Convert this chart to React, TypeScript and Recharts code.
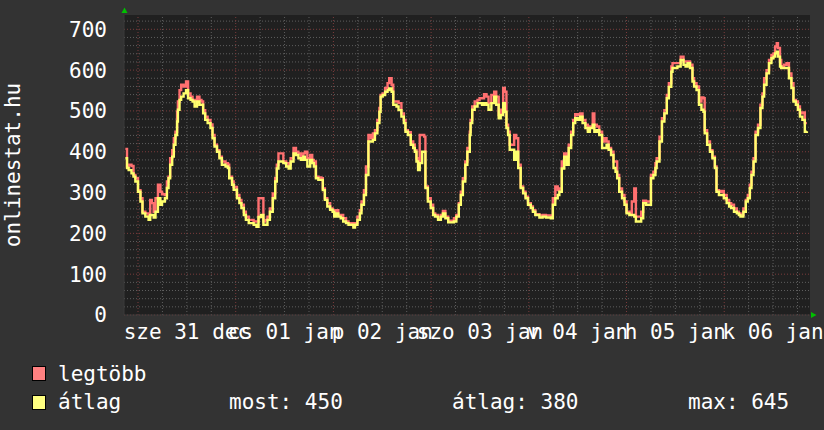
import React from "react";
import { LineChart, Line, XAxis, YAxis, CartesianGrid, ReferenceLine } from "recharts";

// hours counted from midnight, 31 dec
const hours = [
  -3.1, -2.7, -2.3, -1.6, -1.1, -0.65, 0, 0.6, 1.1, 1.8, 2.6, 3.0, 3.4, 3.85, 4.3, 4.9, 5.5, 5.9, 6.6, 7.1,
  7.5, 7.9, 8.4, 8.8, 9.2, 9.6, 9.8, 10.2, 10.6, 11.2, 11.8, 12.3, 12.9, 13.4, 13.9, 14.5, 15.1, 15.6, 16.0, 16.5,
  17.1, 17.8, 18.3, 18.8, 19.4, 20.0, 20.6, 21.5, 22.1, 22.4, 23.1, 23.5, 24.3, 24.9, 25.4, 26.0, 26.5, 27.2, 27.8, 28.4,
  29.1, 29.6, 30.2, 30.8, 31.2, 31.8, 32.4, 33.1, 33.7, 34.1, 34.5, 35.1, 35.7, 36.4, 37.0, 37.5, 38.2, 38.8, 39.4, 40.0,
  40.6, 41.0, 41.6, 42.3, 42.8, 43.2, 43.7, 44.3, 45.0, 45.4, 45.9, 46.5, 47.2, 47.8, 48.2, 48.6, 49.2, 49.8, 50.4, 51.1,
  51.7, 52.2, 52.9, 53.3, 53.9, 54.5, 54.9, 55.5, 56.0, 56.6, 57.2, 57.7, 58.2, 58.8, 59.3, 59.6, 60.1, 60.7, 61.3, 61.7,
  62.3, 62.7, 63.5, 64.0, 64.7, 65.3, 65.7, 66.3, 67.0, 67.6, 68.0, 68.4, 68.8, 69.2, 69.8, 70.3, 70.6, 71.2, 71.9, 72.5,
  73.0, 73.7, 74.4, 74.9, 75.5, 76.2, 77.0, 77.6, 78.2, 78.8, 79.3, 79.8, 80.4, 80.9, 81.5, 81.7, 82.1, 82.7, 83.4, 83.9,
  84.5, 85.0, 85.6, 86.1, 86.8, 87.5, 88.0, 88.6, 89.1, 89.7, 90.1, 90.5, 90.9, 91.3, 91.9, 92.4, 92.9, 93.4, 94.0, 94.6,
  95.2, 95.8, 96.5, 97.0, 97.6, 98.6, 99.4, 100.2, 101.4, 101.9, 102.5, 103.1, 103.5, 104.1, 104.7, 105.3, 105.8, 106.4, 106.9, 107.4,
  108.0, 108.6, 109.2, 109.9, 110.5, 111.0, 111.7, 112.1, 112.7, 113.3, 114.0, 114.5, 115.1, 115.6, 116.2, 116.8, 117.3, 117.7, 118.2, 118.9,
  119.5, 120.0, 120.7, 121.3, 121.9, 122.3, 123.0, 123.6, 124.1, 124.8, 125.4, 126.0, 126.6, 127.1, 127.4, 128.1, 128.7, 129.3, 129.9, 130.4,
  131.0, 131.3, 132.0, 132.5, 133.3, 134.0, 134.5, 135.0, 135.6, 136.2, 136.6, 137.2, 137.8, 138.4, 138.9, 139.2, 139.8, 140.5, 141.1, 141.7,
  142.1, 142.7, 143.3, 143.9, 144.6, 145.2, 145.7, 146.4, 147.1, 147.6, 148.0, 148.7, 149.3, 149.8, 150.3, 150.7, 151.2, 151.7, 152.3, 152.9,
  153.4, 153.8, 154.4, 155.0, 155.6, 156.1, 156.5, 156.9, 157.2, 157.7, 158.0, 158.7, 159.3, 159.9, 160.5, 161.0, 161.6, 162.1, 162.6, 163.2,
  163.8, 164.3,
];

// "legtöbb" (max) series
const legtobb = [
  407, 364, 368, 365, 343, 335, 306, 286, 253, 249, 245, 282, 274, 253, 286, 319, 302, 296, 294, 327,
  339, 384, 404, 433, 449, 498, 523, 551, 564, 560, 572, 543, 535, 527, 527, 535, 527, 523, 502, 486,
  478, 467, 441, 417, 404, 388, 376, 372, 368, 339, 327, 314, 294, 282, 270, 253, 241, 233, 233, 229,
  229, 286, 286, 229, 233, 241, 261, 298, 335, 368, 396, 396, 376, 372, 368, 384, 409, 400, 396, 388,
  396, 400, 384, 392, 380, 376, 339, 337, 335, 310, 286, 274, 261, 257, 249, 257, 245, 245, 237, 229,
  225, 225, 219, 225, 241, 257, 278, 306, 364, 441, 433, 445, 453, 478, 507, 539, 543, 556, 568, 580,
  564, 523, 523, 519, 494, 478, 453, 448, 425, 417, 404, 384, 363, 441, 441, 437, 315, 286, 270, 249,
  245, 239, 245, 255, 241, 231, 231, 237, 245, 274, 302, 335, 376, 409, 449, 478, 511, 523, 527, 531,
  531, 541, 535, 519, 539, 547, 535, 490, 503, 556, 547, 466, 449, 417, 417, 441, 433, 368, 315, 302,
  290, 274, 266, 257, 247, 244, 245, 244, 241, 286, 315, 306, 310, 376, 396, 388, 417, 449, 478, 492,
  490, 494, 478, 466, 453, 462, 494, 466, 462, 449, 425, 433, 425, 409, 400, 376, 376, 343, 310, 294,
  278, 253, 249, 278, 310, 241, 241, 253, 280, 278, 278, 343, 351, 372, 384, 437, 482, 502, 539, 568,
  609, 617, 617, 617, 633, 621, 621, 621, 613, 580, 568, 560, 523, 533, 531, 453, 425, 404, 388, 364,
  306, 302, 304, 294, 282, 274, 270, 261, 253, 249, 245, 261, 282, 294, 319, 351, 384, 449, 466, 515,
  543, 580, 600, 625, 637, 641, 658, 666, 654, 625, 609, 613, 617, 592, 568, 527, 523, 511, 494, 496,
  470, 470,
];

// "átlag" (average) series
const atlag = [
  384, 360, 355, 347, 339, 327, 302, 278, 249, 241, 233, 245, 245, 239, 253, 286, 270, 278, 286, 311,
  335, 368, 388, 417, 441, 474, 503, 527, 535, 543, 551, 531, 527, 523, 511, 523, 515, 515, 494, 478,
  470, 458, 433, 413, 400, 384, 368, 364, 360, 335, 319, 307, 286, 274, 262, 245, 233, 225, 225, 221,
  216, 240, 245, 221, 221, 233, 253, 286, 327, 359, 376, 376, 372, 364, 359, 376, 396, 392, 384, 380,
  388, 380, 364, 380, 372, 364, 335, 331, 331, 306, 282, 266, 258, 253, 241, 249, 241, 237, 229, 225,
  221, 221, 214, 221, 233, 249, 270, 294, 343, 425, 425, 429, 445, 470, 498, 535, 539, 547, 551, 555,
  547, 515, 511, 502, 486, 470, 449, 441, 417, 409, 400, 376, 355, 372, 400, 400, 311, 278, 262, 245,
  241, 233, 241, 249, 237, 227, 227, 229, 241, 270, 294, 327, 368, 400, 441, 470, 503, 511, 519, 519,
  515, 519, 515, 503, 519, 535, 515, 482, 490, 519, 498, 458, 441, 405, 405, 380, 400, 360, 311, 298,
  286, 270, 262, 253, 245, 239, 241, 239, 237, 270, 286, 294, 302, 359, 388, 368, 409, 441, 470, 482,
  478, 486, 470, 458, 449, 458, 466, 449, 453, 441, 409, 409, 417, 405, 392, 360, 351, 335, 302, 286,
  270, 249, 245, 245, 241, 229, 229, 237, 274, 270, 270, 335, 343, 360, 376, 425, 474, 494, 531, 559,
  596, 605, 605, 609, 625, 613, 609, 617, 605, 572, 560, 551, 515, 503, 498, 445, 417, 400, 384, 360,
  302, 294, 294, 286, 274, 266, 262, 253, 249, 245, 241, 253, 278, 286, 311, 343, 376, 441, 458, 507,
  535, 564, 592, 617, 629, 633, 641, 645, 633, 609, 605, 605, 605, 580, 556, 523, 515, 503, 486, 478,
  449, 450,
];

const dayTicks = [12, 36, 60, 84, 108, 132, 156];
const dayLabels = ["sze 31 dec", "cs 01 jan", "p 02 jan", "szo 03 jan", "v 04 jan", "h 05 jan", "k 06 jan"];
const yTicks = [0, 100, 200, 300, 400, 500, 600, 700];

const lastValue = 450;
const avgValue = 380;
const maxValue = 645;

const rows = hours.map((h, i) => ({ h, legtobb: legtobb[i], atlag: atlag[i] }));

const range = (from: number, to: number, by: number) => {
  const out: number[] = [];
  for (let v = from; v <= to; v += by) out.push(v);
  return out;
};
const minorY = range(20, 720, 20).filter((v) => v % 100 !== 0);
const majorY = range(0, 700, 100);
const minorX = range(0, 162, 6).filter((v) => v % 24 !== 0);
const majorX = range(0, 144, 24);

const FONT = '"DejaVu Sans Mono", monospace';
const FONT_SIZE = 21;
const textStyle: React.CSSProperties = {
  position: "absolute",
  fontFamily: FONT,
  fontSize: FONT_SIZE,
  lineHeight: "20px",
  color: "#fff",
  whiteSpace: "pre",
};

const MINOR = "#5e5e5e";
const MAJOR = "#7a3c3c";

export default function App() {
  return (
    <div style={{ position: "fixed", left: 0, top: 0, width: 824, height: 430, background: "#333333", overflow: "hidden" }}>
      <LineChart width={824} height={430} data={rows} margin={{ top: 15, right: 14, left: 0, bottom: 0 }}>
        <CartesianGrid fill="#202020" horizontal={false} vertical={false} />
        <XAxis
          type="number"
          dataKey="h"
          domain={[-3.44, 165.07]}
          ticks={dayTicks}
          interval={0}
          tickFormatter={(v: number) => dayLabels[dayTicks.indexOf(v)]}
          height={115}
          tickLine={false}
          tickSize={0}
          tickMargin={9}
          axisLine={{ stroke: "#3a3a3a" }}
          tick={{ fill: "#ffffff", fontSize: FONT_SIZE, fontFamily: FONT }}
          allowDataOverflow
        />
        <YAxis
          type="number"
          domain={[0, 735]}
          ticks={yTicks}
          interval={0}
          width={124}
          tickLine={false}
          tickSize={0}
          tickMargin={17}
          axisLine={{ stroke: "#3a3a3a" }}
          tick={{ fill: "#ffffff", fontSize: FONT_SIZE, fontFamily: FONT }}
          allowDataOverflow
        />
        {minorY.map((v) => (
          <ReferenceLine key={`my${v}`} y={v} stroke={MINOR} strokeDasharray="1 2" />
        ))}
        {minorX.map((v) => (
          <ReferenceLine key={`mx${v}`} x={v} stroke={MINOR} strokeDasharray="1 2" />
        ))}
        {majorY.map((v) => (
          <ReferenceLine key={`My${v}`} y={v} stroke={MAJOR} strokeDasharray="1 2" />
        ))}
        {majorX.map((v) => (
          <ReferenceLine key={`Mx${v}`} x={v} stroke={MAJOR} strokeDasharray="1 2" />
        ))}
        <Line
          type="stepAfter"
          dataKey="legtobb"
          stroke="#ff7070"
          strokeWidth={2.4}
          dot={false}
          isAnimationActive={false}
        />
        <Line
          type="stepAfter"
          dataKey="atlag"
          stroke="#ffff6e"
          strokeWidth={2.4}
          dot={false}
          isAnimationActive={false}
        />
      </LineChart>

      {/* axis arrows */}
      <svg width={824} height={430} style={{ position: "absolute", left: 0, top: 0, pointerEvents: "none" }}>
        <polygon points="121.5,13 127.5,13 124.5,7.5" fill="#00c000" />
        <polygon points="811,312 811,318 816.5,315" fill="#00c000" />
      </svg>

      <div style={{ ...textStyle, left: -87, top: 155, width: 200, textAlign: "center", transform: "rotate(-90deg)" }}>
        onlinestat.hu
      </div>

      <div style={{ position: "absolute", left: 32, top: 366, width: 12, height: 13, background: "#ff8080", border: "1px solid #000" }} />
      <div style={{ ...textStyle, left: 58, top: 364 }}>legtöbb</div>
      <div style={{ position: "absolute", left: 32, top: 395, width: 12, height: 13, background: "#ffff80", border: "1px solid #000" }} />
      <div style={{ ...textStyle, left: 58, top: 392 }}>átlag</div>
      <div style={{ ...textStyle, left: 229, top: 392 }}>{`most: ${lastValue}`}</div>
      <div style={{ ...textStyle, left: 452, top: 392 }}>{`átlag: ${avgValue}`}</div>
      <div style={{ ...textStyle, left: 688, top: 392 }}>{`max: ${maxValue}`}</div>
    </div>
  );
}
